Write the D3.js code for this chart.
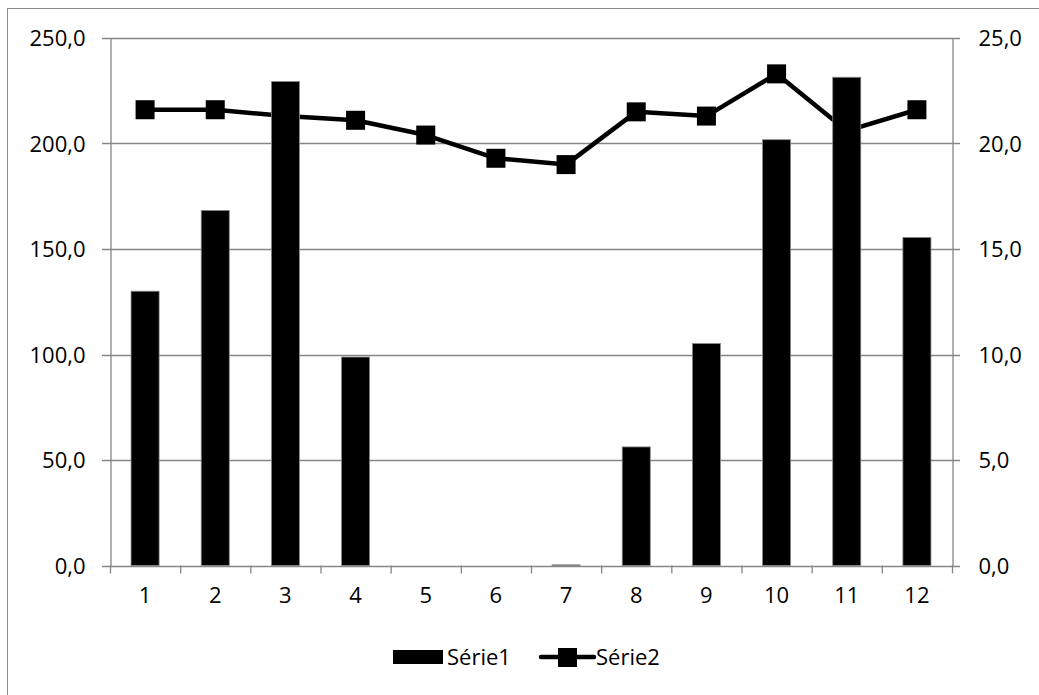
<!DOCTYPE html>
<html>
<head>
<meta charset="utf-8">
<script src="https://cdn.jsdelivr.net/npm/d3@7"></script>
<style>
  html, body { margin: 0; padding: 0; background: #fff; }
  svg { display: block; }
  text { font-family: "Open Sans", "Noto Sans", sans-serif; fill: #000; }
</style>
</head>
<body>
<svg id="chart" width="1039" height="695"></svg>
<script>
// Monthly categories and the two series (bars on the left axis, line on the right axis)
const categories = ["1", "2", "3", "4", "5", "6", "7", "8", "9", "10", "11", "12"];
const serie1 = [130.0, 168.3, 229.4, 98.8, 0.0, 0.0, 0.3, 56.2, 105.2, 201.8, 231.4, 155.5];
const serie2 = [21.6, 21.6, 21.3, 21.1, 20.4, 19.3, 19.0, 21.5, 21.3, 23.3, 20.6, 21.6];
const leftTicks = [0, 50, 100, 150, 200, 250];
const rightTicks = [0, 5, 10, 15, 20, 25];
const seriesNames = ["Série1", "Série2"];

const svg = d3.select("#chart");
const W = 1039, H = 695;
const plot = { left: 110, right: 952, top: 38, bottom: 565.5 };
const grey = "#868686";
const fontSize = "22px";

const fmt = d3.formatLocale({ decimal: ",", thousands: " ", grouping: [3], currency: ["", ""] }).format(".1f");

// Outer chart frame
svg.append("rect")
  .attr("x", 7.5).attr("y", 8.5)
  .attr("width", W + 20).attr("height", H + 20)
  .attr("fill", "#fff").attr("stroke", "#8c8c8c").attr("stroke-width", 1);

const x = d3.scaleBand()
  .domain(categories)
  .range([plot.left, plot.right])
  .paddingInner(0.6)
  .paddingOuter(0.3);

const xEdges = d3.scaleLinear().domain([0, categories.length]).range([plot.left, plot.right]);

const yLeft = d3.scaleLinear().domain([0, 250]).range([plot.bottom, plot.top]);
const yRight = d3.scaleLinear().domain([0, 25]).range([plot.bottom, plot.top]);

// Horizontal gridlines with outward ticks on both sides
svg.append("g")
  .selectAll("line")
  .data(leftTicks)
  .join("line")
  .attr("x1", plot.left - 8).attr("x2", plot.right + 8)
  .attr("y1", d => Math.round(yLeft(d)) + 0.5)
  .attr("y2", d => Math.round(yLeft(d)) + 0.5)
  .attr("stroke", grey).attr("stroke-width", 1.3);

// Left axis
const gLeft = svg.append("g")
  .attr("transform", `translate(${plot.left + 0.5},0)`)
  .call(d3.axisLeft(yLeft).tickValues(leftTicks).tickFormat(fmt).tickSize(0).tickPadding(25));
gLeft.select(".domain").attr("stroke", grey).attr("stroke-width", 1.3);
gLeft.selectAll("text").style("font-size", fontSize).attr("dy", "0.35em");

// Right axis
const gRight = svg.append("g")
  .attr("transform", `translate(${plot.right + 0.5},0)`)
  .call(d3.axisRight(yRight).tickValues(rightTicks).tickFormat(fmt).tickSize(0).tickPadding(26));
gRight.select(".domain").attr("stroke", grey).attr("stroke-width", 1.3);
gRight.selectAll("text").style("font-size", fontSize).attr("dy", "0.35em");

// Bottom axis: ticks at category boundaries, labels centred in each category
const gEdges = svg.append("g")
  .attr("transform", `translate(0,${plot.bottom})`)
  .call(d3.axisBottom(xEdges).ticks(categories.length).tickFormat("").tickSize(8));
gEdges.select(".domain").remove();
gEdges.selectAll("line").attr("stroke", grey).attr("stroke-width", 1.3);

const gBottom = svg.append("g")
  .attr("transform", `translate(0,${plot.bottom})`)
  .call(d3.axisBottom(x).tickSize(0).tickPadding(22));
gBottom.select(".domain").remove();
gBottom.selectAll("text").style("font-size", fontSize);

// Série2 line and square markers (right axis)
const lineGen = d3.line()
  .x((d, i) => x(categories[i]) + x.bandwidth() / 2)
  .y(d => yRight(d));

svg.append("path")
  .datum(serie2)
  .attr("d", lineGen)
  .attr("fill", "none")
  .attr("stroke", "#000")
  .attr("stroke-width", 4.5)
  .attr("stroke-linejoin", "round");

const mk = 19;
svg.append("g")
  .selectAll("rect")
  .data(serie2)
  .join("rect")
  .attr("x", (d, i) => x(categories[i]) + x.bandwidth() / 2 - mk / 2)
  .attr("y", d => yRight(d) - mk / 2)
  .attr("width", mk).attr("height", mk)
  .attr("fill", "#000");

// Série1 bars (left axis), drawn over the line
svg.append("g")
  .selectAll("rect")
  .data(serie1)
  .join("rect")
  .attr("x", (d, i) => x(categories[i]))
  .attr("y", d => yLeft(d))
  .attr("width", x.bandwidth())
  .attr("height", d => plot.bottom - yLeft(d))
  .attr("fill", "#000")
  .attr("stroke", "#8a8a8a")
  .attr("stroke-width", 0.8);

// Legend
const legend = svg.append("g");
legend.append("rect")
  .attr("x", 393).attr("y", 650).attr("width", 50).attr("height", 14)
  .attr("fill", "#000");
legend.append("text")
  .attr("x", 447).attr("y", 657).attr("dy", "0.35em")
  .style("font-size", fontSize)
  .text(seriesNames[0]);
legend.append("line")
  .attr("x1", 541).attr("x2", 594).attr("y1", 657).attr("y2", 657)
  .attr("stroke", "#000").attr("stroke-width", 4.5).attr("stroke-linecap", "round");
legend.append("rect")
  .attr("x", 558).attr("y", 648).attr("width", 19).attr("height", 19)
  .attr("fill", "#000");
legend.append("text")
  .attr("x", 596).attr("y", 657).attr("dy", "0.35em")
  .style("font-size", fontSize)
  .text(seriesNames[1]);
</script>
</body>
</html>
